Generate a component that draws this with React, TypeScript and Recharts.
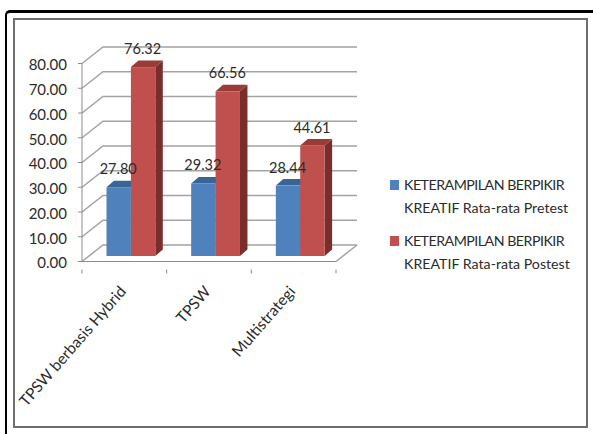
import { Bar, BarChart, CartesianGrid, LabelList, Legend, XAxis, YAxis } from 'recharts'

const categories = ['TPSW berbasis Hybrid', 'TPSW', 'Multistrategi']
const pretest = [27.8, 29.32, 28.44]
const postest = [76.32, 66.56, 44.61]
const yTicks = [0, 10, 20, 30, 40, 50, 60, 70, 80]
const pretestName = 'KETERAMPILAN BERPIKIR KREATIF Rata-rata Pretest'
const postestName = 'KETERAMPILAN BERPIKIR KREATIF Rata-rata Postest'

const data = categories.map((name, i) => ({
  name,
  pretest: pretest[i],
  postest: postest[i],
}))

const FONT = 'Lato, sans-serif'
const TEXT = '#2b2b2b'
const AXIS = '#8c8c8c'
const GRID = '#a3a3a3'

// fake 3d: wall offset of the gridlines, and shift + depth of the bars
const WALL_X = 21
const WALL_Y = -16.5
const SHIFT_X = 6.5
const SHIFT_Y = -5.5
const DEPTH_X = 7.5
const DEPTH_Y = -6.5

const Bar3D = (side: string, top: string) => (props: any) => {
  const x = props.x + SHIFT_X
  const y = props.y + SHIFT_Y
  const { width: w, height: h, fill } = props
  return (
    <g>
      <polygon
        points={`${x + w},${y} ${x + w + DEPTH_X},${y + DEPTH_Y} ${x + w + DEPTH_X},${y + h + DEPTH_Y} ${x + w},${y + h}`}
        fill={side}
      />
      <polygon
        points={`${x},${y} ${x + DEPTH_X},${y + DEPTH_Y} ${x + w + DEPTH_X},${y + DEPTH_Y} ${x + w},${y}`}
        fill={top}
      />
      <rect x={x} y={y} width={w} height={h} fill={fill} />
    </g>
  )
}

const barLabel = (props: any) => (
  <text
    x={props.x + SHIFT_X + props.width / 2 - 0.5}
    y={props.y + SHIFT_Y - 13}
    textAnchor="middle"
    fontFamily={FONT}
    fontSize={14.5}
    fill={TEXT}
  >
    {Number(props.value).toFixed(2)}
  </text>
)

const gridLine = (props: any) => {
  const { x1, y1, x2 } = props
  const backRight = x2 + WALL_X
  const isFloor = Math.abs(y1 - 261.5) < 1
  return (
    <g key={props.key ?? y1}>
      <polyline
        points={`${x1},${y1} ${x1 + WALL_X},${y1 + WALL_Y} ${backRight},${y1 + WALL_Y}`}
        fill="none"
        stroke={GRID}
        strokeWidth={1.5}
      />
      {isFloor && (
        <line x1={x2} y1={y1} x2={backRight} y2={y1 + WALL_Y} stroke={GRID} strokeWidth={1.5} />
      )}
    </g>
  )
}

const CategoryTick = (props: any) => {
  const { x, y, index, payload } = props
  const step = 84.67
  const left = x - step / 2
  return (
    <g>
      <line x1={left} y1={y} x2={left} y2={y + 4} stroke={AXIS} />
      {index === categories.length - 1 && (
        <line x1={left + step} y1={y} x2={left + step} y2={y + 4} stroke={AXIS} />
      )}
      <text
        transform={`translate(${x + 2.5},${y + 22.5}) rotate(-49)`}
        textAnchor="end"
        fontFamily={FONT}
        fontSize={15.5}
        fill={TEXT}
      >
        {payload.value}
      </text>
    </g>
  )
}

const LegendBox = (props: any) => (
  <div style={{ fontFamily: FONT, fontSize: 14.2, lineHeight: '22.5px', color: TEXT, whiteSpace: 'nowrap' }}>
    {props.payload.map((item: any) => {
      // capitals run wide in this font, so the first line is tightened
      const rest = item.value.replace('KETERAMPILAN BERPIKIR ', '')
      return (
        <div key={item.value} style={{ position: 'relative', paddingLeft: 14, marginBottom: 11 }}>
          <span
            style={{
              position: 'absolute',
              left: 0,
              top: 6,
              width: 9,
              height: 10,
              background: item.color,
            }}
          />
          <div style={{ letterSpacing: -0.5 }}>KETERAMPILAN BERPIKIR</div>
          <div>{rest}</div>
        </div>
      )
    })}
  </div>
)

export default function App() {
  return (
    <div style={{ position: 'absolute', left: 0, top: 0, width: 593, height: 434, background: '#fff', overflow: 'hidden' }}>
      {/* slide frame */}
      <div
        style={{
          position: 'absolute',
          left: 5,
          top: 10,
          width: 600,
          height: 440,
          borderLeft: '2px solid #000',
          borderTop: '3px solid #000',
          borderTopLeftRadius: 5,
        }}
      />
      <div
        style={{
          position: 'absolute',
          left: 13,
          top: 18,
          width: 571,
          height: 406,
          border: '2px solid #6e6e6e',
        }}
      />
      <div style={{ position: 'absolute', left: 0, top: 0 }}>
        <BarChart
          width={593}
          height={434}
          data={data}
          barSize={24.4}
          barGap={0}
          margin={{ top: 63.5, right: 257, bottom: 0, left: 0 }}
        >
          <CartesianGrid vertical={false} horizontal={gridLine} />
          <XAxis
            dataKey="name"
            height={172.5}
            interval={0}
            axisLine={{ stroke: AXIS }}
            tickLine={false}
            tick={<CategoryTick />}
          />
          <YAxis
            width={82}
            domain={[0, 80]}
            ticks={yTicks}
            interval={0}
            axisLine={{ stroke: AXIS }}
            tickLine={{ stroke: AXIS }}
            tickSize={4}
            tickMargin={11}
            tickFormatter={(v) => v.toFixed(2)}
            tick={{ fontFamily: FONT, fontSize: 15, fill: TEXT, dy: 1.5 }}
          />
          <Legend
            layout="vertical"
            align="center"
            verticalAlign="middle"
            itemSorter={null}
            content={<LegendBox />}
            wrapperStyle={{ left: 390, top: 174, width: 190, bottom: 'auto' }}
          />
          <Bar
            dataKey="pretest"
            name={pretestName}
            fill="#4f81bd"
            shape={Bar3D('#2f5080', '#3a6496')}
            isAnimationActive={false}
          >
            <LabelList dataKey="pretest" content={barLabel} />
          </Bar>
          <Bar
            dataKey="postest"
            name={postestName}
            fill="#c0504d"
            shape={Bar3D('#7a2e2c', '#9a3b38')}
            isAnimationActive={false}
          >
            <LabelList dataKey="postest" content={barLabel} />
          </Bar>
        </BarChart>
      </div>
    </div>
  )
}
